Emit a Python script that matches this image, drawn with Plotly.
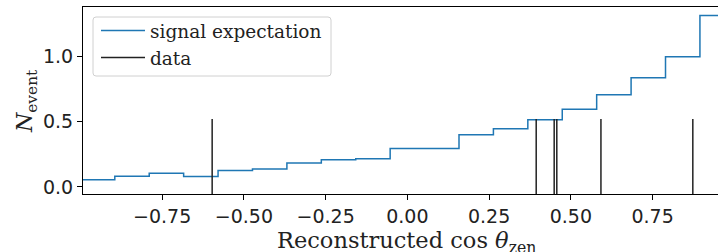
import plotly.graph_objects as go

# Bin edges of the signal expectation histogram (19 bins over [-1, 1])
bin_edges = [-1 + 2 * i / 19 for i in range(20)]
signal_values = [0.056, 0.081, 0.104, 0.079, 0.125, 0.138, 0.184, 0.209, 0.216,
                 0.295, 0.295, 0.400, 0.446, 0.515, 0.594, 0.706, 0.836, 0.997, 1.311]
# Observed events (reconstructed cos zenith)
data_cos = [-0.597, 0.394, 0.449, 0.457, 0.592, 0.873]
data_height = 0.52

x_ticks = [-0.75, -0.5, -0.25, 0.0, 0.25, 0.5, 0.75]
x_ticktext = ["\u22120.75", "\u22120.50", "\u22120.25", "0.00", "0.25", "0.50", "0.75"]
y_ticks = [0.0, 0.5, 1.0]
y_ticktext = ["0.0", "0.5", "1.0"]

L, T, B = 83, 7, 58
W, H = 718, 252
PW, PH = W - L, H - T - B


def px(xp):
    return (xp - L) / PW


def py(yp):
    return (H - B - yp) / PH


fig = go.Figure()

fig.add_trace(go.Scatter(
    x=bin_edges, y=signal_values + [signal_values[-1]],
    mode="lines", line=dict(shape="hv", color="#1f77b4", width=1.5),
    name="signal expectation"))

vx, vy = [], []
for v in data_cos:
    vx += [v, v, None]
    vy += [-0.2, data_height, None]
fig.add_trace(go.Scatter(
    x=vx, y=vy, mode="lines", line=dict(color="#222222", width=1.5),
    name="data"))

fig.add_annotation(
    text="Reconstructed cos <i>θ</i><sub>zen</sub>", xref="paper", yref="paper",
    x=px(406), y=py(225), xanchor="center", yanchor="top",
    showarrow=False, font=dict(family="DejaVu Serif", size=22.5, color="#222222"))
fig.add_annotation(
    text="<i>N</i><sub>event</sub>", xref="paper", yref="paper",
    x=px(26), y=py(101), xanchor="center", yanchor="middle",
    textangle=-90,
    showarrow=False, font=dict(family="DejaVu Serif", size=22, color="#222222"))

# legend frame (rounded box)
x0, x1, y0, y1, r = 93, 331, 17, 76, 3
path = (f"M{px(x0 + r)},{py(y0)} L{px(x1 - r)},{py(y0)} Q{px(x1)},{py(y0)} {px(x1)},{py(y0 + r)} "
        f"L{px(x1)},{py(y1 - r)} Q{px(x1)},{py(y1)} {px(x1 - r)},{py(y1)} "
        f"L{px(x0 + r)},{py(y1)} Q{px(x0)},{py(y1)} {px(x0)},{py(y1 - r)} "
        f"L{px(x0)},{py(y0 + r)} Q{px(x0)},{py(y0)} {px(x0 + r)},{py(y0)} Z")
fig.add_shape(type="path", path=path, xref="paper", yref="paper",
              line=dict(color="#d0d0d0", width=1), fillcolor="rgba(255,255,255,0.8)",
              layer="below")

fig.update_layout(
    width=W, height=H,
    margin=dict(l=L, r=0, t=T, b=B, autoexpand=False),
    plot_bgcolor="white", paper_bgcolor="white",
    showlegend=True,
    legend=dict(x=px(96), y=py(12), xanchor="left", yanchor="top",
                borderwidth=0, bgcolor="rgba(0,0,0,0)",
                font=dict(family="DejaVu Serif", size=18.5, color="#222222"),
                tracegroupgap=0, itemwidth=44),
    xaxis=dict(range=[-0.992, 0.95], showgrid=False, zeroline=False, automargin=False,
               showline=True, linecolor="black", linewidth=1.2, mirror=True,
               ticks="outside", ticklen=5, tickcolor="black",
               tickvals=x_ticks, ticktext=x_ticktext,
               tickfont=dict(family="DejaVu Sans", size=19, color="#222222")),
    yaxis=dict(range=[-0.054, 1.377], showgrid=False, zeroline=False, automargin=False,
               showline=True, linecolor="black", linewidth=1.2,
               ticks="outside", ticklen=5, tickcolor="black",
               tickvals=y_ticks, ticktext=y_ticktext,
               tickfont=dict(family="DejaVu Sans", size=19, color="#222222")),
)

fig.write_html("out.html", config={"displayModeBar": False},
               post_script="document.body.style.margin='0px';document.body.style.overflow='hidden';")
